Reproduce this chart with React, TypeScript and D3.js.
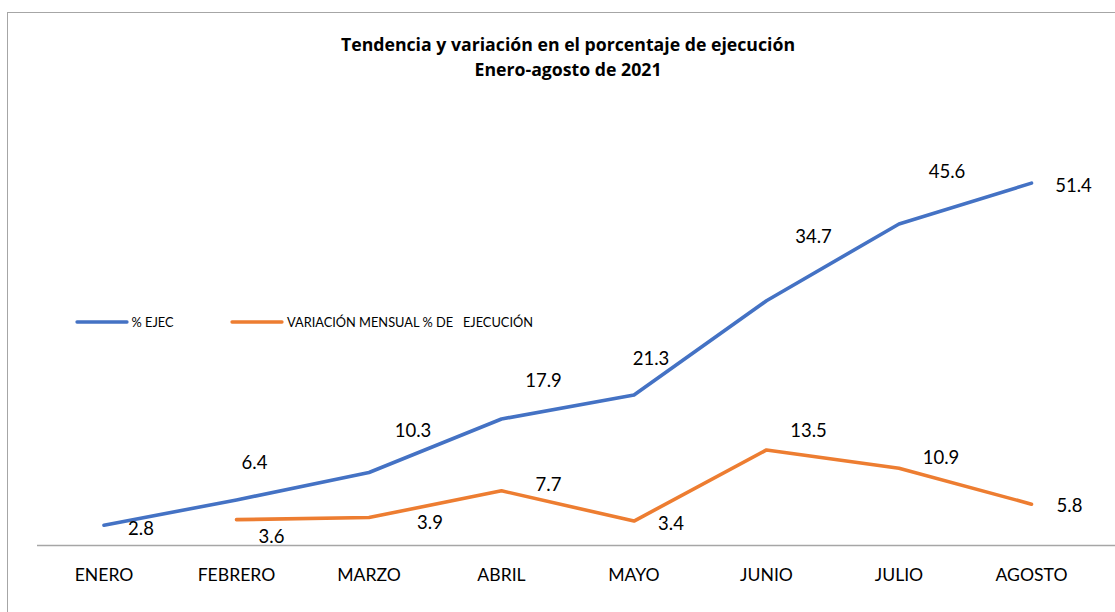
import React from "react";
import * as d3 from "d3";

const months = ["ENERO", "FEBRERO", "MARZO", "ABRIL", "MAYO", "JUNIO", "JULIO", "AGOSTO"];
const ejec = [2.8, 6.4, 10.3, 17.9, 21.3, 34.7, 45.6, 51.4];
const variacion: (number | null)[] = [null, 3.6, 3.9, 7.7, 3.4, 13.5, 10.9, 5.8];
const seriesNames = ["% EJEC", "VARIACIÓN MENSUAL % DE   EJECUCIÓN"];
const titleLines = ["Tendencia y variación en el porcentaje de ejecución", "Enero-agosto de 2021"];

// label centre offsets (px) relative to each point
const ejecLabelOffsets: [number, number][] = [[37, 3], [18, -38], [44, -42], [42, -39], [17, -37], [47, -64], [48, -53], [42, 2]];
const varLabelOffsets: [number, number][] = [[0, 0], [35, 17], [61, 5], [47, -6], [37, 2], [42, -20], [42, -11], [38, 1]];

const W = 1115, H = 612;
const BLUE = "#4472C4", ORANGE = "#ED7D31";
const FONT = "Lato, 'Open Sans', sans-serif";

export default function App() {
  const x = d3.scaleBand<string>().domain(months).range([37.75, 1097.75]);
  const cx = (m: string) => (x(m) as number) + x.bandwidth() / 2;
  const y = d3.scaleLinear().domain([0, 60]).range([545, 545 - 60 * 7.04]);

  const line = d3.line<[string, number | null]>()
    .defined(d => d[1] != null)
    .x(d => cx(d[0]))
    .y(d => y(d[1] as number));

  const ejecPts = months.map((m, i) => [m, ejec[i]] as [string, number | null]);
  const varPts = months.map((m, i) => [m, variacion[i]] as [string, number | null]);
  const LBL = 18.5;

  return (
    <svg width={W} height={H} style={{ position: "absolute", left: 0, top: 0, background: "#fff" }} fontFamily={FONT}>
      <rect x={7.5} y={12.5} width={1200} height={700} fill="#fff" stroke="#a6a6a6" strokeWidth={1} />
      {titleLines.map((t, i) => (
        <text key={i} x={568} y={50.5 + i * 25.5} textAnchor="middle" fontSize={17.7} fontWeight="bold" fill="#000"
          fontFamily="'Open Sans', sans-serif">{t}</text>
      ))}
      {/* legend */}
      <line x1={77} x2={127} y1={322} y2={322} stroke={BLUE} strokeWidth={3.3} strokeLinecap="round" />
      <text x={131.5} y={326.5} fontSize={12.8} fill="#000">{seriesNames[0]}</text>
      <line x1={232} x2={282} y1={322} y2={322} stroke={ORANGE} strokeWidth={3.3} strokeLinecap="round" />
      <text x={287} y={326.5} fontSize={12.8} fill="#000" style={{ whiteSpace: "pre" }}>{seriesNames[1]}</text>
      {/* axis */}
      <line x1={37} x2={1115} y1={y(0) + 0.5} y2={y(0) + 0.5} stroke="#a6a6a6" strokeWidth={1.5} />
      {months.map(m => (
        <text key={m} x={cx(m)} y={581} textAnchor="middle" fontSize={17.6} fill="#000">{m}</text>
      ))}
      <path d={line(ejecPts) || ""} fill="none" stroke={BLUE} strokeWidth={3.6} strokeLinejoin="round" strokeLinecap="round" />
      <path d={line(varPts) || ""} fill="none" stroke={ORANGE} strokeWidth={3.6} strokeLinejoin="round" strokeLinecap="round" />
      {ejec.map((v, i) => (
        <text key={"e" + i} x={cx(months[i]) + ejecLabelOffsets[i][0]} y={y(v) + ejecLabelOffsets[i][1]} dy="0.36em" textAnchor="middle" fontSize={LBL} fill="#000">{v.toFixed(1)}</text>
      ))}
      {variacion.map((v, i) => v == null ? null : (
        <text key={"v" + i} x={cx(months[i]) + varLabelOffsets[i][0]} y={y(v) + varLabelOffsets[i][1]} dy="0.36em" textAnchor="middle" fontSize={LBL} fill="#000">{v.toFixed(1)}</text>
      ))}
    </svg>
  );
}
